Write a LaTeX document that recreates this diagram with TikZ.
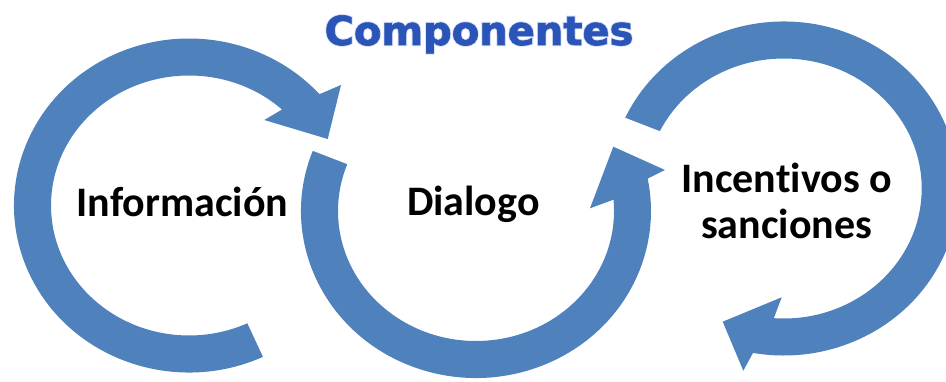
\documentclass[tikz,border=0pt]{standalone}
\usepackage{fontspec}
\setmainfont{Carlito}[Ligatures={NoCommon}]
\newfontfamily\titlefam{DejaVu Sans}
\newfontfamily\titleout{DejaVu Sans}[BoldFeatures={FakeBold=1.6}]
\newfontfamily\titleglow{DejaVu Sans}[BoldFeatures={FakeBold=6}]
\usetikzlibrary{calc,fadings}

\definecolor{ringblue}{RGB}{79,129,189}
\definecolor{ttop}{RGB}{182,198,244}
\definecolor{tbot}{RGB}{48,100,210}
\definecolor{tline}{RGB}{42,84,184}
\definecolor{tglow}{RGB}{208,220,246}

\begin{tikzfadingfrompicture}[name=titlefade]
  \useasboundingbox (-220pt,-10pt) rectangle (220pt,32pt);
  \node[anchor=base, inner sep=0pt, text=transparent!0,
        font=\titlefam\bfseries\fontsize{40}{48}\selectfont] (fadetxt) at (0pt,0pt) {Componentes};
\end{tikzfadingfrompicture}

\begin{document}
\begin{tikzpicture}[x=1pt,y=1pt,
  ring/.style={fill=ringblue, draw=none},
  lbl/.style={font=\bfseries\fontsize{42}{50}\selectfont, inner sep=0pt, anchor=base, text=black},
  titlebase/.style={inner sep=0pt, anchor=base}]
\useasboundingbox (0,0) rectangle (946,381);
\clip (0,0) rectangle (946,381);
\fill[white] (0,0) rectangle (946,381);

% ring 1 : Informacion (clockwise, head at top right)
\coordinate (c1) at (189,175.5);
\fill[ring] ($(c1)+(-65:175pt and 167pt)$)
  arc[start angle=-65, end angle=-318.2, x radius=175pt, y radius=167pt]
  -- (341,296) -- (327.7,242) -- (264.3,261)
  -- ($(c1)+(-312.4:138pt and 130pt)$)
  arc[start angle=-312.4, end angle=-65, x radius=138pt, y radius=130pt] -- cycle;

% ring 2 : Dialogo (counter-clockwise, head at right)
\coordinate (c2) at (476,170);
\fill[ring] ($(c2)+(158.9:175pt and 167pt)$)
  arc[start angle=158.9, end angle=371.2, x radius=175pt, y radius=167pt]
  -- (665,211) -- (613.3,234.3) -- (590,172.7)
  -- ($(c2)+(365:138pt and 130pt)$)
  arc[start angle=365, end angle=158.9, x radius=138pt, y radius=130pt] -- cycle;

% ring 3 : Incentivos (clockwise, head at bottom left)
\coordinate (c3) at (783.7,192.5);
\fill[ring] ($(c3)+(154.9:175pt and 167pt)$)
  arc[start angle=154.9, end angle=-100.1, x radius=175pt, y radius=167pt]
  -- (743.3,10.3) -- (722.7,59.3) -- (781.7,83.7)
  -- ($(c3)+(-94.1:138pt and 130pt)$)
  arc[start angle=-94.1, end angle=153.8, x radius=138pt, y radius=130pt] -- cycle;

% labels
\node[lbl] (info) at (182.5,164.3) {Información};
\node[lbl] (dial) at (473.3,166) {Dialogo};
\node[lbl] (inc1) at (786.7,188.3) {Incentivos o};
\node[lbl] (inc2) at (786.7,142.7) {sanciones};

% title
\coordinate (tb) at (479,336);
\node[titlebase, text=tglow, font=\titleglow\bfseries\fontsize{40}{48}\selectfont] (tglowtxt) at (tb) {Componentes};
\node[titlebase, text=tline, font=\titleout\bfseries\fontsize{40}{48}\selectfont] (title) at (tb) {Componentes};
\shade[path fading=titlefade, fit fading=false, top color=ttop, bottom color=tbot]
  (259,326) rectangle (699,368);
\end{tikzpicture}
\end{document}
